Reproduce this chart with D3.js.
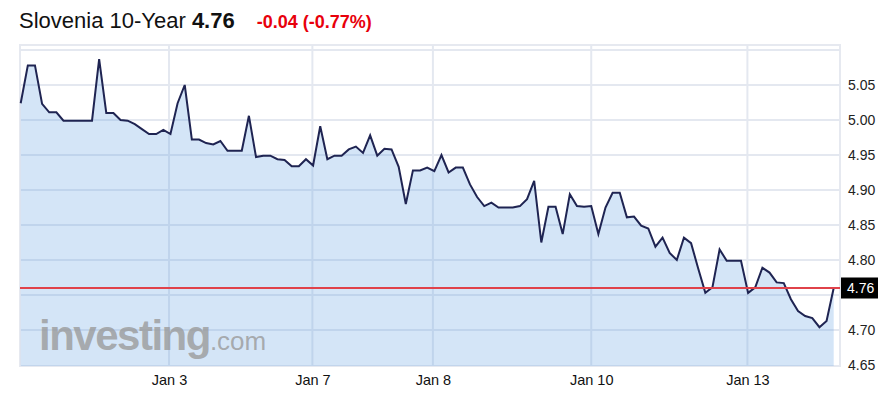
<!DOCTYPE html>
<html>
<head>
<meta charset="utf-8">
<script src="https://cdn.jsdelivr.net/npm/d3@7"></script>
<style>
  body { margin: 0; background: #fff; }
  svg { display: block; font-family: Arial, "Liberation Sans", sans-serif; }
</style>
</head>
<body>
<script>
// yield readings, one per sample, left to right
var values = [
  5.024, 5.078, 5.078, 5.023, 5.011, 5.011, 4.999, 4.999, 4.999, 4.999,
  4.999, 5.087, 5.010, 5.010, 5.000, 4.999, 4.994, 4.987, 4.980, 4.980,
  4.986, 4.980, 5.024, 5.050, 4.972, 4.972, 4.967, 4.965, 4.970, 4.956,
  4.956, 4.956, 5.006, 4.947, 4.949, 4.949, 4.944, 4.943, 4.934, 4.934,
  4.944, 4.935, 4.991, 4.944, 4.949, 4.949, 4.958, 4.962, 4.953, 4.978,
  4.949, 4.959, 4.958, 4.933, 4.880, 4.928, 4.928, 4.932, 4.927, 4.950,
  4.925, 4.932, 4.932, 4.908, 4.890, 4.877, 4.882, 4.875, 4.875, 4.875,
  4.877, 4.887, 4.913, 4.825, 4.876, 4.876, 4.837, 4.894, 4.877, 4.876,
  4.877, 4.837, 4.875, 4.896, 4.896, 4.861, 4.862, 4.849, 4.845, 4.819,
  4.832, 4.810, 4.800, 4.832, 4.824, 4.788, 4.753, 4.761, 4.815, 4.799,
  4.799, 4.799, 4.753, 4.761, 4.789, 4.782, 4.768, 4.767, 4.744, 4.727,
  4.720, 4.717, 4.704, 4.713, 4.760
]
var dateLabels = ["Jan 3", "Jan 7", "Jan 8", "Jan 10", "Jan 13"]
var dateIdx = [20.8, 40.9, 57.8, 80, 101.9]
// 4.75 sits under the value box, so no label there
var yTicks = [4.65, 4.70, 4.80, 4.85, 4.90, 4.95, 5.00, 5.05]
var yGrid = [4.70, 4.75, 4.80, 4.85, 4.90, 4.95, 5.00, 5.05, 5.10]
var lastValue = 4.76
var change = "-0.04 (-0.77%)"

var frame = {left: 20, top: 45, right: 840, bottom: 366}

var svg = d3.select("body").append("svg")
  .attr("width", 891)
  .attr("height", 395)

// title
var title = svg.append("text")
  .attr("x", 19)
  .attr("y", 28)
  .style("font-size", "22px")
  .attr("fill", "#111")
title.append("tspan").text("Slovenia 10-Year ")
title.append("tspan").style("font-weight", "bold").text(lastValue.toFixed(2))
title.append("tspan").attr("dx", 22).attr("fill", "#e8000b")
  .style("font-size", "18px").style("font-weight", "bold").text(change)

var x = d3.scaleLinear()
  .domain([0, values.length - 1])
  .range([20.7, 833.7])

var y = d3.scaleLinear()
  .domain([4.65, 5.05])
  .range([365, 85])

// frame + grid
svg.append("rect")
  .attr("x", frame.left)
  .attr("y", frame.top)
  .attr("width", frame.right - frame.left)
  .attr("height", frame.bottom - frame.top)
  .attr("fill", "none")
  .attr("stroke", "#e6e9f0")
  .attr("stroke-width", 2)

svg.append("g").selectAll("line")
  .data(yGrid)
  .enter().append("line")
  .attr("x1", frame.left).attr("x2", frame.right)
  .attr("y1", function(d) { return y(d) })
  .attr("y2", function(d) { return y(d) })
  .attr("stroke", "#e4e8f0")
  .attr("stroke-width", 2)

svg.append("g").selectAll("line")
  .data(dateIdx)
  .enter().append("line")
  .attr("x1", function(d) { return x(d) })
  .attr("x2", function(d) { return x(d) })
  .attr("y1", frame.top).attr("y2", frame.bottom)
  .attr("stroke", "#e4e8f0")
  .attr("stroke-width", 2)

// area + line
var area = d3.area()
  .x(function(d, i) { return x(i) })
  .y0(frame.bottom)
  .y1(function(d) { return y(d) })

svg.append("path")
  .datum(values)
  .attr("d", area)
  .attr("fill", "rgb(100,160,225)")
  .attr("fill-opacity", 0.28)

// watermark
var wm = svg.append("text")
  .attr("x", 39)
  .attr("y", 350)
  .attr("fill", "#9a9a9a")
  .attr("fill-opacity", 0.8)
wm.append("tspan").style("font-size", "42px").style("font-weight", "bold")
  .style("letter-spacing", "-1.5px").text("investing")
wm.append("tspan").style("font-size", "26px").text(".com")

var line = d3.line()
  .x(function(d, i) { return x(i) })
  .y(function(d) { return y(d) })

svg.append("path")
  .datum(values)
  .attr("d", line)
  .attr("fill", "none")
  .attr("stroke", "#1f2452")
  .attr("stroke-width", 2)

// current value line
svg.append("line")
  .attr("x1", frame.left).attr("x2", frame.right)
  .attr("y1", y(lastValue)).attr("y2", y(lastValue))
  .attr("stroke", "#e0424a")
  .attr("stroke-width", 2)

// y axis labels
var yAxis = d3.axisRight(y)
  .tickValues(yTicks)
  .tickSize(0)
  .tickPadding(8)
  .tickFormat(d3.format(".2f"))

var ya = svg.append("g")
  .attr("transform", "translate(" + frame.right + ",0)")
  .call(yAxis)
ya.select(".domain").remove()
ya.selectAll("text")
  .style("font-size", "14px")
  .attr("fill", "#222")
  .attr("font-family", null)

// value box
svg.append("rect")
  .attr("x", frame.right + 1)
  .attr("y", y(lastValue) - 10.5)
  .attr("width", 37)
  .attr("height", 21)
  .attr("fill", "#000")
svg.append("text")
  .attr("x", frame.right + 7)
  .attr("y", y(lastValue))
  .attr("dy", "0.35em")
  .style("font-size", "14px")
  .attr("fill", "#fff")
  .text(lastValue.toFixed(2))

// date labels
var xAxis = d3.axisBottom(x)
  .tickValues(dateIdx)
  .tickSize(0)
  .tickPadding(9)
  .tickFormat(function(d, i) { return dateLabels[i] })

var xa = svg.append("g")
  .attr("transform", "translate(0," + frame.bottom + ")")
  .call(xAxis)
xa.select(".domain").remove()
xa.selectAll("text")
  .style("font-size", "14.5px")
  .attr("fill", "#111")
  .attr("font-family", null)
</script>
</body>
</html>
